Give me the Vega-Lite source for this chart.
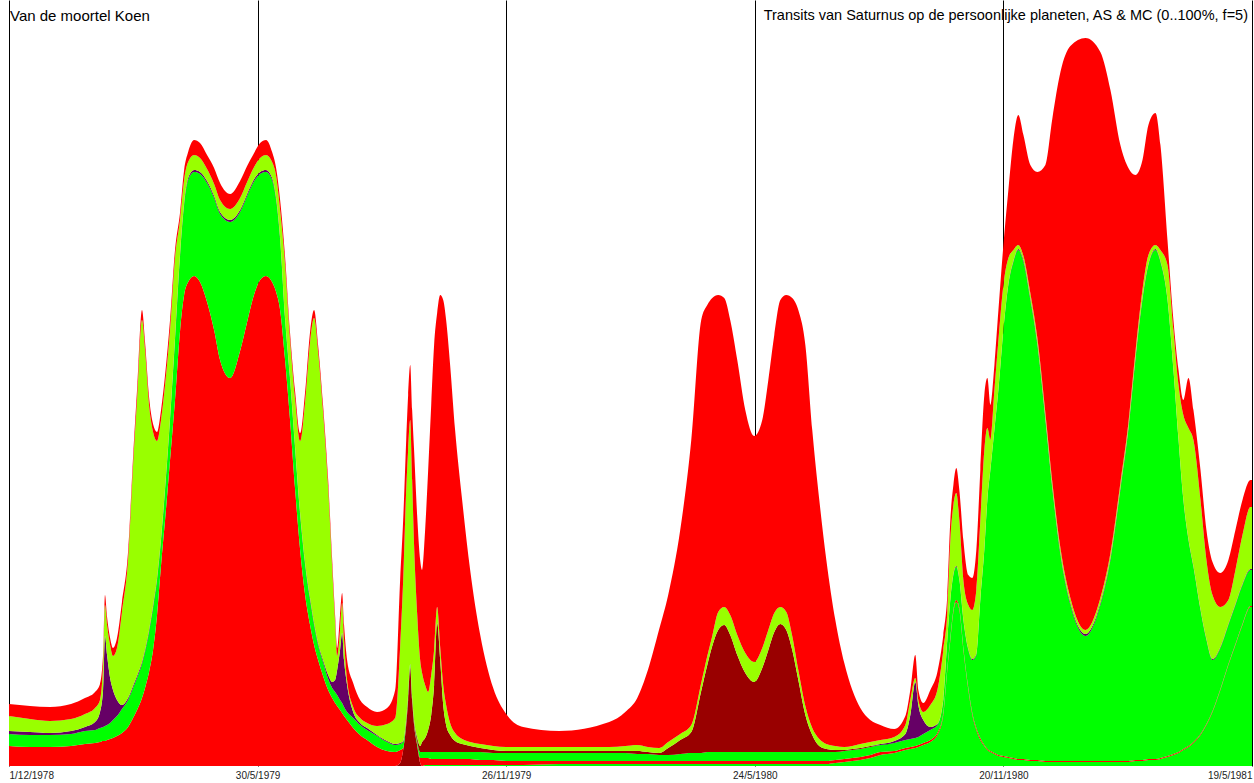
{
  "$schema": "https://vega.github.io/schema/vega-lite/v6.json",
  "description": "Transits van Saturnus op de persoonlijke planeten, AS & MC - stacked areas",
  "autosize": {"type": "none"},
  "padding": {"left": 9, "top": 0, "right": 2, "bottom": 17},
  "width": 1243,
  "height": 766,
  "background": "white",
  "config": {"view": {"stroke": null}},
  "layer": [
    {
      "data": {
        "values": [
          {"t":0,"a":0,"b":0,"c":20,"d":12,"e":0,"f":3,"g":15,"h":12},
          {"t":15.2,"a":0,"b":0,"c":19,"d":12,"e":0,"f":3,"g":13,"h":13},
          {"t":29.7,"a":0,"b":0,"c":19,"d":12,"e":0,"f":2,"g":12,"h":14},
          {"t":44.9,"a":0,"b":0,"c":20,"d":12,"e":0,"f":3,"g":12,"h":15},
          {"t":55.0,"a":0,"b":0,"c":22,"d":13,"e":0,"f":4,"g":13,"h":16},
          {"t":62.3,"a":0,"b":0,"c":23,"d":13,"e":0,"f":8,"g":14,"h":16},
          {"t":65.9,"a":0,"b":0,"c":24,"d":14,"e":0,"f":16,"g":12,"h":16},
          {"t":68.1,"a":0,"b":0,"c":25,"d":14,"e":0,"f":37,"g":25,"h":10},
          {"t":69.5,"a":0,"b":0,"c":25,"d":15,"e":0,"f":90,"g":31,"h":10},
          {"t":71.0,"a":0,"b":0,"c":26,"d":15,"e":0,"f":70,"g":30,"h":8},
          {"t":73.2,"a":0,"b":0,"c":27,"d":16,"e":0,"f":45,"g":33,"h":7},
          {"t":75.3,"a":0,"b":0,"c":28,"d":18,"e":0,"f":30,"g":34,"h":8},
          {"t":78.2,"a":0,"b":0,"c":30,"d":20,"e":0,"f":16,"g":52,"h":10},
          {"t":81.8,"a":0,"b":0,"c":33,"d":24,"e":0,"f":4,"g":93,"h":10},
          {"t":86.2,"a":0,"b":0,"c":39,"d":27,"e":0,"f":2,"g":138,"h":8},
          {"t":89.8,"a":0,"b":0,"c":48,"d":30,"e":0,"f":2,"g":220,"h":8},
          {"t":92.7,"a":0,"b":0,"c":56,"d":32,"e":0,"f":2,"g":276,"h":10},
          {"t":96.3,"a":0,"b":0,"c":68,"d":34,"e":0,"f":2,"g":342,"h":10},
          {"t":98.5,"a":0,"b":0,"c":78,"d":36,"e":0,"f":2,"g":300,"h":8},
          {"t":101.4,"a":0,"b":0,"c":94,"d":40,"e":0,"f":2,"g":225,"h":8},
          {"t":104.3,"a":0,"b":0,"c":116,"d":42,"e":0,"f":2,"g":174,"h":8},
          {"t":107.2,"a":0,"b":0,"c":151,"d":35,"e":0,"f":2,"g":137,"h":9},
          {"t":110.1,"a":0,"b":0,"c":201,"d":25,"e":0,"f":2,"g":118,"h":10},
          {"t":113.0,"a":0,"b":0,"c":246,"d":30,"e":0,"f":2,"g":103,"h":10},
          {"t":116.6,"a":0,"b":0,"c":306,"d":40,"e":0,"f":2,"g":88,"h":10},
          {"t":120.2,"a":0,"b":0,"c":366,"d":60,"e":0,"f":2,"g":80,"h":8},
          {"t":123.9,"a":0,"b":0,"c":436,"d":75,"e":0,"f":2,"g":34,"h":7},
          {"t":126.8,"a":0,"b":0,"c":471,"d":90,"e":0,"f":2,"g":23,"h":10},
          {"t":129.7,"a":0,"b":0,"c":484,"d":102,"e":0,"f":2,"g":16,"h":10},
          {"t":134.0,"a":0,"b":0,"c":490,"d":104,"e":0,"f":2,"g":15,"h":15},
          {"t":138.3,"a":0,"b":0,"c":484,"d":108,"e":0,"f":2,"g":14,"h":15},
          {"t":143.4,"a":0,"b":0,"c":464,"d":119,"e":0,"f":2,"g":12,"h":14},
          {"t":148.5,"a":0,"b":0,"c":436,"d":132,"e":0,"f":2,"g":12,"h":16},
          {"t":152.8,"a":0,"b":0,"c":406,"d":146,"e":0,"f":2,"g":12,"h":17},
          {"t":160.1,"a":0,"b":0,"c":388,"d":156,"e":0,"f":2,"g":11,"h":15},
          {"t":167.3,"a":0,"b":0,"c":415,"d":139,"e":0,"f":2,"g":12,"h":17},
          {"t":172.4,"a":0,"b":0,"c":444,"d":126,"e":0,"f":2,"g":12,"h":16},
          {"t":176.7,"a":0,"b":0,"c":468,"d":115,"e":0,"f":2,"g":12,"h":14},
          {"t":181.8,"a":0,"b":0,"c":486,"d":106,"e":0,"f":2,"g":14,"h":15},
          {"t":186.1,"a":0,"b":0,"c":490,"d":104,"e":0,"f":2,"g":15,"h":15},
          {"t":190.5,"a":0,"b":0,"c":484,"d":102,"e":0,"f":2,"g":16,"h":10},
          {"t":193.4,"a":0,"b":0,"c":474,"d":92,"e":0,"f":2,"g":22,"h":8},
          {"t":196.3,"a":0,"b":0,"c":456,"d":70,"e":0,"f":2,"g":28,"h":10},
          {"t":199.9,"a":0,"b":0,"c":406,"d":40,"e":0,"f":2,"g":53,"h":8},
          {"t":203.5,"a":0,"b":0,"c":346,"d":40,"e":0,"f":2,"g":38,"h":7},
          {"t":207.2,"a":0,"b":0,"c":276,"d":40,"e":0,"f":2,"g":48,"h":8},
          {"t":210.8,"a":0,"b":0,"c":216,"d":35,"e":0,"f":2,"g":72,"h":8},
          {"t":214.4,"a":0,"b":0,"c":171,"d":30,"e":0,"f":2,"g":161,"h":10},
          {"t":218.0,"a":0,"b":0,"c":141,"d":25,"e":0,"f":2,"g":256,"h":10},
          {"t":220.9,"a":0,"b":0,"c":121,"d":20,"e":0,"f":2,"g":305,"h":8},
          {"t":223.8,"a":0,"b":0,"c":106,"d":15,"e":0,"f":2,"g":291,"h":7},
          {"t":227.4,"a":0,"b":0,"c":90,"d":14,"e":0,"f":2,"g":248,"h":7},
          {"t":231.1,"a":0,"b":0,"c":76,"d":11,"e":0,"f":4,"g":187,"h":8},
          {"t":234.0,"a":0,"b":0,"c":68,"d":10,"e":0,"f":6,"g":114,"h":8},
          {"t":236.1,"a":0,"b":0,"c":63,"d":11,"e":0,"f":12,"g":58,"h":7},
          {"t":237.6,"a":0,"b":0,"c":60,"d":11,"e":0,"f":25,"g":14,"h":8},
          {"t":239.7,"a":0,"b":0,"c":56,"d":10,"e":0,"f":50,"g":20,"h":15},
          {"t":241.2,"a":0,"b":0,"c":53,"d":10,"e":0,"f":70,"g":30,"h":10},
          {"t":242.6,"a":0,"b":0,"c":50,"d":9,"e":0,"f":47,"g":20,"h":15},
          {"t":244.8,"a":0,"b":0,"c":46,"d":8,"e":0,"f":27,"g":5,"h":20},
          {"t":249.2,"a":0,"b":0,"c":38,"d":10,"e":0,"f":6,"g":5,"h":24},
          {"t":254.2,"a":0,"b":0,"c":31,"d":10,"e":0,"f":2,"g":5,"h":18},
          {"t":259.3,"a":0,"b":0,"c":26,"d":10,"e":0,"f":2,"g":5,"h":16},
          {"t":266.5,"a":0,"b":0,"c":19,"d":11,"e":0,"f":1,"g":9,"h":14},
          {"t":273.8,"a":0,"b":0,"c":15,"d":9,"e":0,"f":1,"g":17,"h":16},
          {"t":279.6,"a":0,"b":0,"c":14,"d":7,"e":0,"f":1,"g":26,"h":28},
          {"t":283.2,"a":0,"b":3,"c":13,"d":6,"e":0,"f":1,"g":96,"h":67},
          {"t":285.4,"a":0,"b":16,"c":2,"d":6,"e":0,"f":1,"g":161,"h":60},
          {"t":287.6,"a":0,"b":41,"c":3,"d":3,"e":0,"f":1,"g":228,"h":50},
          {"t":289.0,"a":0,"b":66,"c":2,"d":3,"e":0,"f":1,"g":244,"h":55},
          {"t":290.5,"a":0,"b":98,"c":1,"d":2,"e":0,"f":1,"g":244,"h":55},
          {"t":291.9,"a":0,"b":66,"c":1,"d":2,"e":0,"f":1,"g":216,"h":70},
          {"t":293.3,"a":0,"b":41,"c":1,"d":2,"e":1,"f":1,"g":175,"h":95},
          {"t":295.5,"a":0,"b":21,"c":1,"d":3,"e":3,"f":1,"g":124,"h":98},
          {"t":297.7,"a":0,"b":3,"c":5,"d":6,"e":6,"f":0,"g":86,"h":100},
          {"t":299.1,"a":0,"b":0,"c":8,"d":6,"e":10,"f":0,"g":69,"h":103},
          {"t":301.3,"a":1,"b":0,"c":7,"d":6,"e":14,"f":0,"g":53,"h":155},
          {"t":303.5,"a":1,"b":0,"c":7,"d":6,"e":22,"f":0,"g":38,"h":222},
          {"t":305.7,"a":1,"b":0,"c":6,"d":7,"e":37,"f":0,"g":40,"h":270},
          {"t":307.8,"a":1,"b":0,"c":6,"d":7,"e":67,"f":0,"g":35,"h":305},
          {"t":310.0,"a":1,"b":0,"c":6,"d":7,"e":129,"f":0,"g":16,"h":294},
          {"t":312.2,"a":1,"b":0,"c":6,"d":7,"e":92,"f":0,"g":13,"h":352},
          {"t":314.4,"a":1,"b":0,"c":6,"d":7,"e":47,"f":0,"g":20,"h":385},
          {"t":316.5,"a":1,"b":0,"c":6,"d":7,"e":27,"f":0,"g":20,"h":385},
          {"t":319.4,"a":1,"b":0,"c":6,"d":7,"e":17,"f":0,"g":12,"h":358},
          {"t":323.0,"a":1,"b":0,"c":6,"d":7,"e":11,"f":0,"g":8,"h":303},
          {"t":328.1,"a":1,"b":0,"c":6,"d":7,"e":8,"f":0,"g":5,"h":239},
          {"t":333.9,"a":1,"b":0,"c":6,"d":7,"e":6,"f":0,"g":4,"h":172},
          {"t":341.2,"a":1,"b":0,"c":5,"d":8,"e":4,"f":0,"g":4,"h":109},
          {"t":350.6,"a":1,"b":0,"c":5,"d":7,"e":3,"f":0,"g":4,"h":58},
          {"t":360.0,"a":1,"b":0,"c":4,"d":8,"e":2,"f":0,"g":4,"h":33},
          {"t":372.3,"a":1,"b":0,"c":4,"d":8,"e":2,"f":0,"g":4,"h":20},
          {"t":398.4,"a":2,"b":0,"c":3,"d":8,"e":2,"f":0,"g":4,"h":16},
          {"t":434.6,"a":2,"b":0,"c":3,"d":8,"e":2,"f":0,"g":4,"h":25},
          {"t":446.2,"a":2,"b":0,"c":3,"d":8,"e":2,"f":0,"g":5,"h":34},
          {"t":454.9,"a":2,"b":0,"c":3,"d":7,"e":3,"f":0,"g":6,"h":47},
          {"t":462.6,"a":2,"b":0,"c":3,"d":7,"e":2,"f":0,"g":5,"h":77},
          {"t":470.8,"a":2,"b":0,"c":3,"d":6,"e":2,"f":0,"g":5,"h":119},
          {"t":477.3,"a":2,"b":0,"c":3,"d":6,"e":7,"f":0,"g":6,"h":147},
          {"t":486.0,"a":2,"b":0,"c":3,"d":7,"e":14,"f":0,"g":6,"h":204},
          {"t":494.0,"a":2,"b":0,"c":3,"d":8,"e":21,"f":0,"g":7,"h":285},
          {"t":501.2,"a":2,"b":0,"c":3,"d":8,"e":62,"f":0,"g":8,"h":363},
          {"t":505.6,"a":2,"b":0,"c":3,"d":9,"e":87,"f":0,"g":9,"h":351},
          {"t":509.2,"a":2,"b":0,"c":3,"d":9,"e":106,"f":0,"g":10,"h":338},
          {"t":513.5,"a":2,"b":0,"c":3,"d":9,"e":122,"f":0,"g":18,"h":317},
          {"t":517.9,"a":2,"b":0,"c":3,"d":9,"e":127,"f":0,"g":18,"h":309},
          {"t":522.2,"a":2,"b":0,"c":3,"d":9,"e":117,"f":0,"g":20,"h":295},
          {"t":527.3,"a":2,"b":0,"c":3,"d":9,"e":97,"f":0,"g":20,"h":275},
          {"t":533.1,"a":2,"b":0,"c":3,"d":9,"e":79,"f":0,"g":20,"h":243},
          {"t":539.6,"a":2,"b":0,"c":3,"d":9,"e":70,"f":0,"g":20,"h":226},
          {"t":545.4,"a":2,"b":0,"c":3,"d":9,"e":84,"f":0,"g":20,"h":228},
          {"t":549.8,"a":2,"b":0,"c":3,"d":9,"e":102,"f":0,"g":20,"h":250},
          {"t":554.1,"a":2,"b":0,"c":3,"d":9,"e":120,"f":0,"g":19,"h":278},
          {"t":558.5,"a":2,"b":0,"c":3,"d":9,"e":128,"f":0,"g":17,"h":307},
          {"t":562.8,"a":2,"b":0,"c":3,"d":9,"e":122,"f":0,"g":18,"h":317},
          {"t":567.1,"a":2,"b":0,"c":3,"d":9,"e":102,"f":0,"g":14,"h":338},
          {"t":571.5,"a":2,"b":0,"c":3,"d":9,"e":72,"f":0,"g":10,"h":360},
          {"t":576.6,"a":2,"b":0,"c":3,"d":9,"e":37,"f":0,"g":9,"h":361},
          {"t":581.6,"a":2,"b":0,"c":3,"d":9,"e":17,"f":0,"g":7,"h":298},
          {"t":586.7,"a":2,"b":0,"c":3,"d":9,"e":6,"f":0,"g":7,"h":239},
          {"t":591.8,"a":2,"b":0,"c":3,"d":9,"e":3,"f":0,"g":5,"h":184},
          {"t":598.3,"a":3,"b":0,"c":3,"d":8,"e":2,"f":0,"g":4,"h":126},
          {"t":604.8,"a":4,"b":0,"c":3,"d":8,"e":1,"f":0,"g":3,"h":84},
          {"t":610.6,"a":5,"b":0,"c":3,"d":8,"e":1,"f":0,"g":3,"h":56},
          {"t":616.4,"a":6,"b":0,"c":3,"d":8,"e":1,"f":0,"g":4,"h":36},
          {"t":623.6,"a":8,"b":0,"c":3,"d":8,"e":1,"f":0,"g":4,"h":22},
          {"t":630.9,"a":11,"b":0,"c":3,"d":7,"e":0,"f":1,"g":4,"h":15},
          {"t":641.0,"a":13,"b":0,"c":2,"d":8,"e":0,"f":2,"g":4,"h":8},
          {"t":649.0,"a":16,"b":0,"c":2,"d":8,"e":0,"f":6,"g":9,"h":9},
          {"t":652.6,"a":17,"b":0,"c":2,"d":8,"e":0,"f":24,"g":15,"h":10},
          {"t":656.2,"a":18,"b":0,"c":2,"d":8,"e":0,"f":56,"g":4,"h":23},
          {"t":658.4,"a":19,"b":0,"c":2,"d":8,"e":0,"f":32,"g":5,"h":10},
          {"t":662.0,"a":21,"b":0,"c":2,"d":9,"e":0,"f":14,"g":8,"h":9},
          {"t":667.1,"a":24,"b":0,"c":2,"d":10,"e":0,"f":3,"g":22,"h":15},
          {"t":672.2,"a":31,"b":0,"c":2,"d":8,"e":0,"f":1,"g":34,"h":18},
          {"t":676.5,"a":51,"b":0,"c":2,"d":13,"e":0,"f":1,"g":49,"h":15},
          {"t":679.4,"a":96,"b":0,"c":2,"d":28,"e":0,"f":1,"g":27,"h":17},
          {"t":681.6,"a":126,"b":0,"c":2,"d":38,"e":0,"f":1,"g":59,"h":20},
          {"t":683.8,"a":154,"b":0,"c":2,"d":35,"e":0,"f":1,"g":69,"h":20},
          {"t":685.9,"a":164,"b":0,"c":2,"d":33,"e":0,"f":1,"g":73,"h":25},
          {"t":688.1,"a":156,"b":0,"c":2,"d":28,"e":0,"f":1,"g":59,"h":30},
          {"t":691.0,"a":116,"b":0,"c":2,"d":28,"e":0,"f":1,"g":39,"h":40},
          {"t":694.6,"a":76,"b":0,"c":2,"d":38,"e":0,"f":1,"g":44,"h":30},
          {"t":697.5,"a":51,"b":0,"c":2,"d":53,"e":0,"f":1,"g":49,"h":32},
          {"t":700.4,"a":36,"b":0,"c":2,"d":73,"e":0,"f":1,"g":64,"h":40},
          {"t":703.3,"a":26,"b":0,"c":2,"d":138,"e":0,"f":1,"g":79,"h":50},
          {"t":706.2,"a":20,"b":0,"c":1,"d":195,"e":0,"f":1,"g":99,"h":55},
          {"t":708.4,"a":16,"b":0,"c":1,"d":249,"e":0,"f":1,"g":71,"h":50},
          {"t":710.6,"a":14,"b":0,"c":1,"d":281,"e":0,"f":1,"g":29,"h":35},
          {"t":713.5,"a":12,"b":0,"c":1,"d":323,"e":0,"f":1,"g":39,"h":25},
          {"t":716.4,"a":10,"b":0,"c":1,"d":365,"e":0,"f":1,"g":49,"h":30},
          {"t":720.0,"a":9,"b":0,"c":1,"d":426,"e":0,"f":1,"g":44,"h":40},
          {"t":723.6,"a":8,"b":0,"c":1,"d":472,"e":0,"f":1,"g":26,"h":68},
          {"t":727.2,"a":7,"b":0,"c":1,"d":496,"e":0,"f":1,"g":11,"h":110},
          {"t":730.8,"a":6,"b":0,"c":1,"d":509,"e":0,"f":1,"g":4,"h":130},
          {"t":734.5,"a":6,"b":0,"c":1,"d":497,"e":0,"f":2,"g":4,"h":121},
          {"t":739.5,"a":5,"b":0,"c":1,"d":460,"e":0,"f":2,"g":5,"h":128},
          {"t":744.6,"a":5,"b":0,"c":1,"d":415,"e":0,"f":2,"g":5,"h":166},
          {"t":750.4,"a":4,"b":0,"c":1,"d":341,"e":0,"f":2,"g":5,"h":248},
          {"t":755.5,"a":4,"b":0,"c":1,"d":271,"e":0,"f":2,"g":5,"h":365},
          {"t":761.3,"a":4,"b":0,"c":1,"d":206,"e":0,"f":2,"g":5,"h":476},
          {"t":768.5,"a":4,"b":0,"c":1,"d":156,"e":0,"f":2,"g":5,"h":552},
          {"t":779.4,"a":4,"b":0,"c":1,"d":125,"e":0,"f":2,"g":4,"h":592},
          {"t":790.2,"a":4,"b":0,"c":1,"d":156,"e":0,"f":2,"g":5,"h":546},
          {"t":797.5,"a":4,"b":0,"c":1,"d":201,"e":0,"f":2,"g":5,"h":463},
          {"t":804.7,"a":4,"b":0,"c":1,"d":271,"e":0,"f":2,"g":5,"h":338},
          {"t":810.5,"a":4,"b":0,"c":1,"d":331,"e":0,"f":2,"g":5,"h":255},
          {"t":815.6,"a":5,"b":0,"c":1,"d":400,"e":0,"f":2,"g":6,"h":177},
          {"t":820.7,"a":5,"b":0,"c":1,"d":460,"e":0,"f":2,"g":8,"h":130},
          {"t":825.0,"a":6,"b":0,"c":1,"d":494,"e":0,"f":1,"g":9,"h":130},
          {"t":830.1,"a":6,"b":0,"c":1,"d":509,"e":0,"f":1,"g":4,"h":132},
          {"t":833.7,"a":7,"b":0,"c":1,"d":496,"e":0,"f":1,"g":11,"h":105},
          {"t":838.8,"a":9,"b":0,"c":1,"d":456,"e":0,"f":1,"g":34,"h":25},
          {"t":843.1,"a":11,"b":0,"c":1,"d":384,"e":0,"f":1,"g":39,"h":10},
          {"t":846.8,"a":13,"b":0,"c":1,"d":312,"e":0,"f":1,"g":54,"h":15},
          {"t":850.3,"a":16,"b":0,"c":1,"d":249,"e":0,"f":1,"g":84,"h":15},
          {"t":854.0,"a":19,"b":0,"c":1,"d":206,"e":0,"f":1,"g":111,"h":50},
          {"t":857.6,"a":23,"b":0,"c":1,"d":175,"e":0,"f":1,"g":126,"h":30},
          {"t":862.7,"a":31,"b":0,"c":1,"d":124,"e":0,"f":1,"g":109,"h":30},
          {"t":867.0,"a":41,"b":0,"c":1,"d":84,"e":0,"f":1,"g":79,"h":30},
          {"t":871.4,"a":54,"b":0,"c":1,"d":51,"e":0,"f":1,"g":64,"h":33},
          {"t":877.1,"a":76,"b":0,"c":1,"d":41,"e":0,"f":1,"g":40,"h":34},
          {"t":882.9,"a":101,"b":0,"c":1,"d":39,"e":0,"f":1,"g":24,"h":40},
          {"t":888.0,"a":121,"b":0,"c":1,"d":39,"e":0,"f":1,"g":34,"h":40},
          {"t":893.1,"a":141,"b":0,"c":1,"d":39,"e":0,"f":1,"g":49,"h":35},
          {"t":898.9,"a":159,"b":0,"c":1,"d":36,"e":0,"f":1,"g":62,"h":27},
          {"t":900,"a":159,"b":0,"c":1,"d":36,"e":0,"f":1,"g":62,"h":27}
        ]
      },
      "transform": [
        {"fold": ["a", "b", "c", "d", "e", "f", "g", "h"], "as": ["layer", "v"]}
      ],
      "mark": {"type": "area", "interpolate": "monotone"},
      "encoding": {
        "x": {
          "field": "t",
          "type": "quantitative",
          "scale": {"domain": [0, 900], "nice": false, "zero": false},
          "axis": {
            "values": [0, 180, 360, 540, 720, 900],
            "title": null,
            "grid": true,
            "gridColor": "#000000",
            "gridOpacity": 1,
            "gridWidth": 1,
            "domain": false,
            "ticks": false,
            "labelFlush": true,
            "labelPadding": 4,
            "labelFont": "Liberation Sans",
            "labelFontSize": 10,
            "labelColor": "#222222",
            "labelExpr": "timeFormat(datetime(1978, 11, 1 + datum.value), '%-d/%-m/%Y')"
          }
        },
        "y": {
          "field": "v",
          "type": "quantitative",
          "stack": "zero",
          "scale": {"domain": [0, 766], "nice": false},
          "axis": null
        },
        "color": {
          "field": "layer",
          "type": "nominal",
          "scale": {
            "domain": ["a", "b", "c", "d", "e", "f", "g", "h"],
            "range": ["#00ff00", "#990000", "#ff0000", "#00ff00", "#990000", "#660066", "#99ff00", "#ff0000"]
          },
          "legend": null
        },
        "order": {"field": "layer", "sort": "ascending"}
      }
    },
    {
      "data": {"values": [{"t": 0, "v": 766, "label": "Van de moortel Koen"}]},
      "mark": {"type": "text", "align": "left", "baseline": "top", "dx": 1, "dy": 9, "font": "Liberation Sans", "fontSize": 15, "color": "#000000"},
      "encoding": {
        "x": {"field": "t", "type": "quantitative"},
        "y": {"field": "v", "type": "quantitative"},
        "text": {"field": "label"}
      }
    },
    {
      "data": {"values": [{"t": 900, "v": 766, "label": "Transits van Saturnus op de persoonlijke planeten, AS & MC (0..100%, f=5)"}]},
      "mark": {"type": "text", "align": "right", "baseline": "top", "dx": -4, "dy": 9, "font": "Liberation Sans", "fontSize": 14.5, "color": "#000000"},
      "encoding": {
        "x": {"field": "t", "type": "quantitative"},
        "y": {"field": "v", "type": "quantitative"},
        "text": {"field": "label"}
      }
    }
  ]
}
